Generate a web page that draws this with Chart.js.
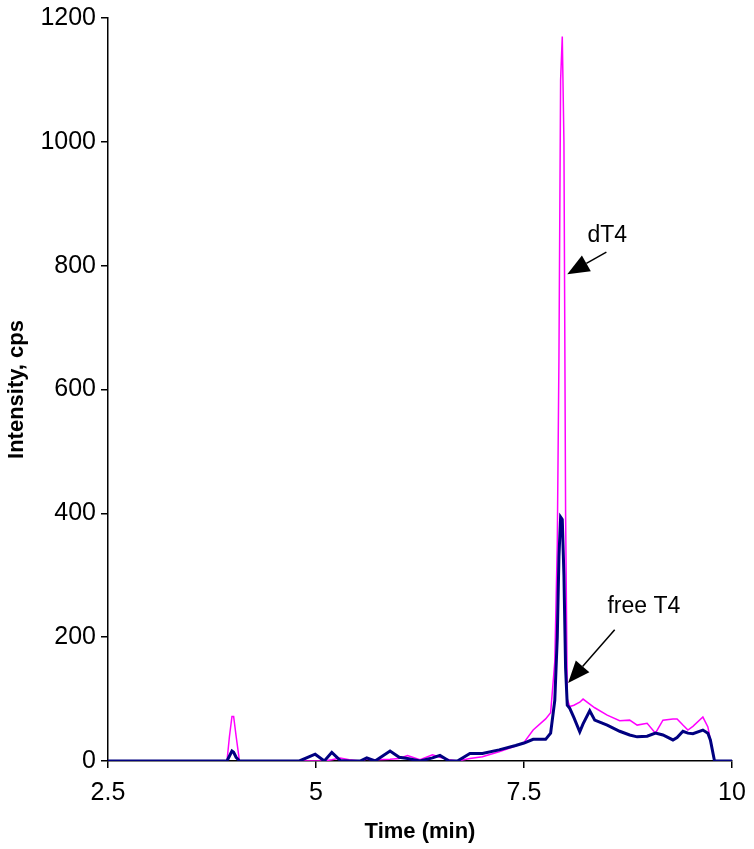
<!DOCTYPE html>
<html>
<head>
<meta charset="utf-8">
<script src="https://cdn.jsdelivr.net/npm/chart.js@4"></script>
<style>
  html, body { margin: 0; padding: 0; background: #fff; }
  #wrap { width: 754px; height: 849px; }
</style>
</head>
<body>
<div id="wrap"><canvas id="chromatogram"></canvas></div>
<script>
const timeMin = [2.5, 3.9, 3.93, 3.96, 3.99, 4.01, 4.04, 4.08, 4.8, 4.99, 5.1, 5.19, 5.29, 5.4, 5.53, 5.61, 5.71, 5.89, 6.0, 6.1, 6.25, 6.4, 6.49, 6.6, 6.7, 6.85, 7.0, 7.2, 7.4, 7.5, 7.61, 7.76, 7.82, 7.87, 7.9, 7.92, 7.94, 7.96, 7.98, 8.0, 8.02, 8.05, 8.1, 8.17, 8.21, 8.29, 8.35, 8.5, 8.65, 8.77, 8.86, 8.98, 9.08, 9.17, 9.29, 9.34, 9.41, 9.47, 9.53, 9.65, 9.71, 9.74, 9.79, 10];
const freeT4 = [0, 0, 0, 8, 16, 14, 6, 0, 0, 11, 0, 14, 1, 0, 0, 5, 0, 16, 6, 4, 0, 5, 9, 0, 0, 12, 12, 18, 25, 29, 35, 35, 45, 98, 200, 330, 394, 390, 300, 150, 90, 85, 70, 47, 60, 81, 66, 58, 48, 42, 39, 40, 45, 42, 34, 38, 48, 45, 44, 50, 45, 34, 0, 0];
const dT4 = [0, 0, 0, 40, 72, 72, 40, 0, 0, 0, 0, 2, 5, 2, 0, 3, 2, 3, 4, 9, 2, 10, 6, 2, 0, 4, 7, 15, 24, 30, 50, 68, 78, 160, 350, 650, 1100, 1170, 1000, 400, 100, 88, 90, 95, 100, 92, 86, 74, 65, 66, 58, 61, 45, 66, 68, 68, 58, 50, 56, 71, 55, 35, 0, 0];
const xTicks = [2.5, 5, 7.5, 10];
const peakLabels = [
  { text: 'dT4', at: [8.5, 848], from: [8.49, 822], to: [8.02, 786] },
  { text: 'free T4', at: [8.94, 250], from: [8.59, 212], to: [8.03, 126] }
];

const toPoints = (vals) => vals.map((v, i) => ({ x: timeMin[i], y: v }));

const arrowLabels = {
  id: 'arrowLabels',
  afterDatasetsDraw(chart) {
    const { ctx, scales: { x, y } } = chart;
    ctx.save();
    ctx.fillStyle = '#000';
    ctx.strokeStyle = '#000';
    ctx.font = '23px "Liberation Sans", Arial, sans-serif';
    ctx.textAlign = 'center';
    ctx.textBaseline = 'middle';
    peakLabels.forEach(l => {
      ctx.fillText(l.text, x.getPixelForValue(l.at[0]), y.getPixelForValue(l.at[1]));
      const x0 = x.getPixelForValue(l.from[0]), y0 = y.getPixelForValue(l.from[1]);
      const x1 = x.getPixelForValue(l.to[0]), y1 = y.getPixelForValue(l.to[1]);
      const ang = Math.atan2(y1 - y0, x1 - x0);
      const headLen = 22, headW = 9;
      const bx = x1 - headLen * Math.cos(ang), by = y1 - headLen * Math.sin(ang);
      ctx.lineWidth = 1.5;
      ctx.beginPath();
      ctx.moveTo(x0, y0);
      ctx.lineTo(bx, by);
      ctx.stroke();
      ctx.beginPath();
      ctx.moveTo(x1, y1);
      ctx.lineTo(bx + headW * Math.sin(ang), by - headW * Math.cos(ang));
      ctx.lineTo(bx - headW * Math.sin(ang), by + headW * Math.cos(ang));
      ctx.closePath();
      ctx.fill();
    });
    ctx.restore();
  }
};

const tickFont = { family: '"Liberation Sans", Arial, sans-serif', size: 25 };
const titleFont = { family: '"Liberation Sans", Arial, sans-serif', size: 22, weight: 'bold' };

new Chart(document.getElementById('chromatogram'), {
  type: 'line',
  data: {
    datasets: [{
      label: 'free T4',
      data: toPoints(freeT4),
      borderColor: '#000080',
      borderWidth: 3,
      pointRadius: 0,
      tension: 0,
      fill: false
    }, {
      label: 'dT4',
      data: toPoints(dT4),
      borderColor: '#ff00ff',
      borderWidth: 1.5,
      pointRadius: 0,
      tension: 0,
      fill: false
    }]
  },
  options: {
    responsive: true,
    maintainAspectRatio: false,
    animation: false,
    layout: { padding: { top: 18, right: 22, left: 0, bottom: 0 } },
    plugins: {
      legend: { display: false },
      tooltip: { enabled: false }
    },
    scales: {
      x: {
        type: 'linear',
        min: 2.5,
        max: 10,
        afterBuildTicks: (s) => { s.ticks = xTicks.map(v => ({ value: v })); },
        afterFit: (s) => { s.height = 88; s.paddingLeft = 0; s.paddingRight = 0; },
        border: { display: true, color: '#000', width: 1.5 },
        grid: { drawOnChartArea: false, drawTicks: true, tickLength: 7, color: '#000', lineWidth: 1.5 },
        ticks: { color: '#000', font: tickFont, padding: 10, maxRotation: 0 },
        title: { display: true, text: 'Time (min)', color: '#000', font: titleFont, padding: { top: 4 } }
      },
      y: {
        min: 0,
        max: 1200,
        afterFit: (s) => { s.width = 108; s.paddingTop = 0; s.paddingBottom = 0; },
        border: { display: true, color: '#000', width: 1.5 },
        grid: { drawOnChartArea: false, drawTicks: true, tickLength: 7, color: '#000', lineWidth: 1.5 },
        ticks: { stepSize: 200, color: '#000', font: tickFont, padding: 5, callback: (v) => String(v) },
        title: { display: true, text: 'Intensity, cps', color: '#000', font: titleFont, padding: { bottom: 4 } }
      }
    }
  },
  plugins: [arrowLabels]
});
</script>
</body>
</html>
